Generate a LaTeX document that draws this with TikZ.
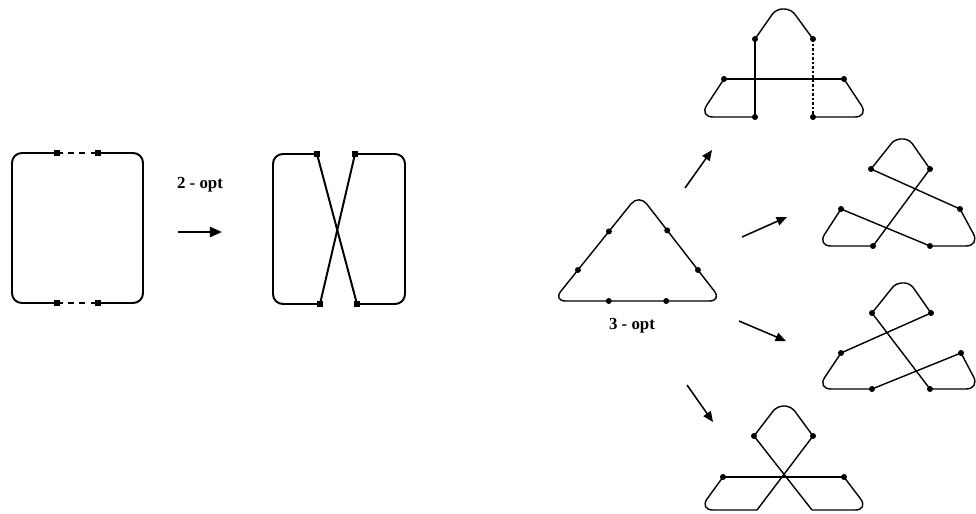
\documentclass[tikz,border=0pt]{standalone}
\usepackage{fontspec}
\setmainfont{Liberation Serif}
\usetikzlibrary{arrows.meta,calc}
\tikzset{
  pont/.style={rectangle,fill,inner sep=2pt},
  kispont/.style={circle,fill,inner sep=1.5pt},
  nyil/.style={line width=1.5pt,-{Triangle[length=3mm,width=2.5mm]}},
  kisnyil/.style={line width=1.1pt,-{Triangle[length=2.6mm,width=2.2mm]}},
  vastag/.style={line width=1.4pt,rounded corners=7pt},
  vekony/.style={line width=1pt,rounded corners=7pt},
  szagg/.style={line width=1.4pt,dash pattern=on 4pt off 4pt},
  cimke/.style={font=\bfseries\fontsize{12}{14}\selectfont},
}
\begin{document}
\begin{tikzpicture}[x=0.025cm,y=-0.025cm]
  \useasboundingbox (0,0) rectangle (976,514);
  % 2-opt: before
  \coordinate (ba) at (57,153);  \coordinate (bb) at (98,153);
  \coordinate (bc) at (57,303);  \coordinate (bd) at (98,303);
  \draw[vastag] (ba) -- (12,153) -- (12,303) -- (bc);
  \draw[vastag] (bb) -- (143,153) -- (143,303) -- (bd);
  \draw[szagg] (ba) -- (bb); \draw[szagg] (bc) -- (bd);
  \node[cimke] (ketopt) at (200,185) {2 - opt};
  \coordinate (k1) at (178,232); \coordinate (k2) at (222,232);
  \draw[nyil] (k1) -- (k2);
  % 2-opt: after
  \coordinate (ua) at (317,154); \coordinate (ub) at (355,154);
  \coordinate (uc) at (320,304); \coordinate (ud) at (357,304);
  \draw[vastag] (ua) -- (273,154) -- (273,304) -- (uc);
  \draw[vastag] (ub) -- (405,154) -- (405,304) -- (ud);
  \draw[vastag] (ua) -- (ud); \draw[vastag] (ub) -- (uc);
  \foreach \p in {ba,bb,bc,bd,ua,ub,uc,ud} \node[pont] (p-\p) at (\p) {};

  % 3-opt: triangle
  \coordinate (tcs) at (639,194); \coordinate (tbl) at (553,301);
  \coordinate (tjo) at (722,301); \coordinate (tm) at (637,301);
  \draw[vekony,rounded corners=9pt] (tm) -- (tjo) -- (tcs) -- (tbl) -- cycle;
  \coordinate (t1) at ($(tcs)!0.35!(tbl)$); \coordinate (t2) at ($(tcs)!0.71!(tbl)$);
  \coordinate (t3) at ($(tcs)!0.34!(tjo)$); \coordinate (t4) at ($(tcs)!0.71!(tjo)$);
  \coordinate (t5) at ($(tbl)!0.33!(tjo)$); \coordinate (t6) at ($(tbl)!0.67!(tjo)$);
  \node[cimke] (haromopt) at (632,326) {3 - opt};
  % arrows
  \coordinate (n1a) at (685,188); \coordinate (n1b) at (712,150);
  \coordinate (n2a) at (742,237); \coordinate (n2b) at (787,217);
  \coordinate (n3a) at (739,321); \coordinate (n3b) at (786,341);
  \coordinate (n4a) at (687,385); \coordinate (n4b) at (713,422);
  \draw[kisnyil] (n1a) -- (n1b);
  \draw[kisnyil] (n2a) -- (n2b);
  \draw[kisnyil] (n3a) -- (n3b);
  \draw[kisnyil] (n4a) -- (n4b);

  % variant 1
  \coordinate (a1) at (755,39);  \coordinate (b1) at (813,39);
  \coordinate (c1) at (724,79);  \coordinate (d1) at (844,79);
  \coordinate (e1) at (755,117); \coordinate (f1) at (813,117);
  \draw[vekony,rounded corners=4.5pt] (a1) -- (776,9) -- (791,9) -- (b1);
  \draw[vekony,rounded corners=10pt] (c1) -- (699,117) -- (e1);
  \draw[vekony,rounded corners=10pt] (d1) -- (869,117) -- (f1);
  \draw[vekony] (a1) -- (e1); \draw[vekony] (c1) -- (d1);
  \draw[line width=0.9pt,dash pattern=on 2pt off 1.2pt] (b1) -- (f1);
  % variant 2
  \coordinate (a2) at (871,169); \coordinate (b2) at (930,169);
  \coordinate (c2) at (960,209); \coordinate (d2) at (930,246);
  \coordinate (e2) at (841,209); \coordinate (g2) at (873,246);
  \draw[vekony,rounded corners=4pt] (a2) -- (895,139) -- (909,139) -- (b2);
  \draw[vekony,rounded corners=10pt] (c2) -- (980,246) -- (d2);
  \draw[vekony,rounded corners=10pt] (e2) -- (817,246) -- (g2);
  \draw[vekony] (a2) -- (c2); \draw[vekony] (d2) -- (e2); \draw[vekony] (g2) -- (b2);
  % variant 3
  \coordinate (a3) at (872,313); \coordinate (b3) at (931,313);
  \coordinate (c3) at (961,353); \coordinate (d3) at (930,389);
  \coordinate (e3) at (841,353); \coordinate (g3) at (872,389);
  \draw[vekony,rounded corners=4pt] (a3) -- (896,283) -- (910,283) -- (b3);
  \draw[vekony,rounded corners=10pt] (c3) -- (980,389) -- (d3);
  \draw[vekony,rounded corners=10pt] (e3) -- (817,389) -- (g3);
  \draw[vekony] (b3) -- (e3); \draw[vekony] (g3) -- (c3); \draw[vekony] (d3) -- (a3);
  % variant 4
  \coordinate (a4) at (754,436); \coordinate (b4) at (813,436);
  \coordinate (l4) at (723,477); \coordinate (r4) at (844,477);
  \coordinate (p4) at (757,510); \coordinate (q4) at (812,510);
  \draw[vekony,rounded corners=4.5pt] (a4) -- (777,406) -- (791,406) -- (b4);
  \draw[vekony,rounded corners=10pt] (l4) -- (699,510) -- (p4);
  \draw[vekony,rounded corners=10pt] (r4) -- (869,510) -- (q4);
  \draw[vekony] (l4) -- (r4); \draw[vekony] (p4) -- (b4); \draw[vekony] (q4) -- (a4);

  \foreach \p in {t1,t2,t3,t4,t5,t6,a1,b1,c1,d1,e1,f1,a2,b2,c2,d2,e2,g2,
                  a3,b3,c3,d3,e3,g3,a4,b4,l4,r4}
    \node[kispont] (p-\p) at (\p) {};
\end{tikzpicture}
\end{document}
